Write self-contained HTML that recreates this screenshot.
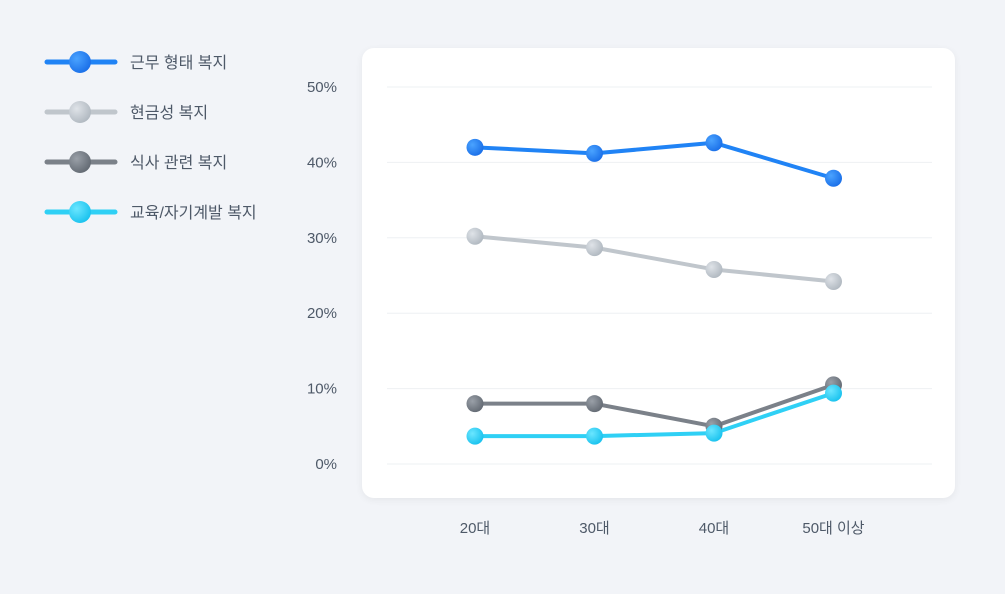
<!DOCTYPE html>
<html><head><meta charset="utf-8">
<style>
body{margin:0;width:1005px;height:594px;background:#f2f4f8;font-family:"Liberation Sans","Noto Sans CJK KR",sans-serif;overflow:hidden;position:relative}
#card{position:absolute;left:362px;top:48px;width:593px;height:450px;background:#fff;border-radius:12px;box-shadow:0 2px 8px rgba(0,0,0,0.06)}
svg{position:absolute;left:0;top:0}
</style></head><body>
<div id="card"></div>
<svg id="chart" width="1005" height="594">
<defs>
<radialGradient id="g0" cx="35%" cy="35%" r="70%"><stop offset="0" stop-color="#4aa3ff"/><stop offset="1" stop-color="#1a6fe8"/></radialGradient>
<radialGradient id="g1" cx="35%" cy="35%" r="70%"><stop offset="0" stop-color="#dfe3e8"/><stop offset="1" stop-color="#b0b8c0"/></radialGradient>
<radialGradient id="g2" cx="35%" cy="35%" r="70%"><stop offset="0" stop-color="#9aa0a8"/><stop offset="1" stop-color="#636a73"/></radialGradient>
<radialGradient id="g3" cx="35%" cy="35%" r="70%"><stop offset="0" stop-color="#6be6ff"/><stop offset="1" stop-color="#19c2ee"/></radialGradient>
</defs>
</svg>
<script>
const categories=["20대","30대","40대","50대 이상"];
const seriesNames=["근무 형태 복지","현금성 복지","식사 관련 복지","교육/자기계발 복지"];
const workStyle=[42.0,41.2,42.6,37.9];
const cash=[30.2,28.7,25.8,24.2];
const meal=[8.0,8.0,5.0,10.5];
const education=[3.7,3.7,4.1,9.4];
const yTicks=[0,10,20,30,40,50];
const tickLabels=["0%","10%","20%","30%","40%","50%"];
const colors=["#2083f5","#c0c6cc","#7b8189","#2fd0f5"];
const series=[workStyle,cash,meal,education];
const svg=document.getElementById('chart');
const NS="http://www.w3.org/2000/svg";
const y=v=>464-v*7.54;
const x=i=>475+i*119.5;
function mk(t,a){const e=document.createElementNS(NS,t);for(const k in a)e.setAttribute(k,a[k]);svg.appendChild(e);return e;}
yTicks.forEach((t,i)=>{
 const l=mk('line',{x1:387,x2:932,y1:y(t),y2:y(t),stroke:'#eef0f3','stroke-width':1});
 
 
 const tx=mk('text',{x:337,y:y(t)+5,'text-anchor':'end','font-size':15,fill:'#4e5968'});
 tx.textContent=tickLabels[i];
 
 
});
categories.forEach((c,i)=>{
 const tx=mk('text',{x:x(i),y:533,'text-anchor':'middle','font-size':15,fill:'#4e5968'});
 tx.textContent=c;
 
 
});
series.forEach((s,k)=>{
 const p=mk('polyline',{points:s.map((v,i)=>x(i)+','+y(v)).join(' '),fill:'none',stroke:colors[k],'stroke-width':4,'stroke-linejoin':'round'});
 
 
});
series.forEach((s,k)=>{
 s.forEach((v,i)=>{
  const c=mk('circle',{cx:x(i),cy:y(v),r:8.5,fill:'url(#g'+k+')'});
  
  
 });
});
seriesNames.forEach((n,k)=>{
 const yy=62+k*50;
 const l=mk('line',{x1:47,x2:115,y1:yy,y2:yy,stroke:colors[k],'stroke-width':5,'stroke-linecap':'round'});
 
 
 const c=mk('circle',{cx:80,cy:yy,r:11,fill:'url(#g'+k+')'});
 
 
 const t=mk('text',{x:130,y:yy+6,'font-size':16,fill:'#4e5968'});
 t.textContent=n;
 
 
});
</script>
</body></html>
